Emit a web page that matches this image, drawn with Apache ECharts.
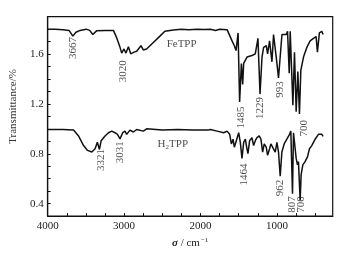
<!DOCTYPE html>
<html>
<head>
<meta charset="utf-8">
<script src="https://cdn.jsdelivr.net/npm/echarts@6/dist/echarts.min.js"></script>
<style>
html,body{margin:0;padding:0;background:#fff}
#chart{width:340px;height:254px}
</style>
</head>
<body>
<div id="chart"></div>
<script>
// FeTPP spectrum [wavenumber, transmittance]
var feTPP = [
  [4000,1.80],[3900,1.80],[3800,1.795],[3720,1.79],[3670,1.744],[3630,1.775],[3575,1.79],
  [3496,1.80],[3450,1.79],[3409,1.757],[3357,1.788],[3250,1.79],[3139,1.79],[3096,1.73],
  [3053,1.654],[3031,1.608],[3001,1.641],[2975,1.608],[2943,1.659],[2913,1.602],[2870,1.616],
  [2835,1.623],[2779,1.667],[2748,1.633],[2705,1.641],[2617,1.693],[2531,1.744],[2466,1.783],
  [2356,1.794],[2250,1.80],[2150,1.795],[2050,1.80],[1950,1.797],[1870,1.80],[1804,1.79],
  [1750,1.80],[1652,1.796],[1631,1.783],[1587,1.706],[1557,1.667],[1535,1.628],[1508,1.77],
  [1488,1.215],[1465,1.525],[1448,1.357],[1435,1.525],[1391,1.576],[1326,1.589],[1283,1.602],
  [1248,1.726],[1221,1.279],[1195,1.576],[1174,1.654],[1139,1.667],[1122,1.602],[1096,1.706],
  [1074,1.719],[1065,1.538],[1044,1.757],[1009,1.576],[979,1.409],[934,1.757],[913,1.770],
  [878,1.757],[861,1.783],[839,1.447],[826,1.783],[791,1.189],[770,1.615],[748,1.137],
  [726,1.46],[705,1.12],[687,1.47],[652,1.576],[608,1.654],[565,1.706],[522,1.726],
  [487,1.74],[470,1.615],[444,1.77],[413,1.783],[395,1.757]
];
// H2TPP spectrum
var h2TPP = [
  [4000,0.995],[3800,0.995],[3661,0.99],[3596,0.943],[3530,0.866],[3478,0.827],[3422,0.814],
  [3379,0.84],[3350,0.892],[3322,0.835],[3300,0.905],[3249,0.943],[3204,0.969],[3161,0.982],
  [3118,0.969],[3087,0.956],[3053,0.92],[3018,0.969],[2988,0.982],[2966,0.956],[2923,0.99],
  [2878,0.975],[2835,0.995],[2748,0.982],[2705,1.0],[2500,0.99],[2300,0.995],[2100,0.99],
  [1900,0.99],[1870,0.995],[1783,0.982],[1696,0.969],[1653,0.982],[1618,0.956],[1596,0.879],
  [1574,0.917],[1557,0.853],[1531,0.905],[1500,0.969],[1479,0.892],[1457,0.763],[1448,0.75],
  [1435,0.892],[1413,0.917],[1392,0.840],[1379,0.801],[1357,0.905],[1327,0.930],[1305,0.866],
  [1283,0.905],[1261,0.930],[1231,0.943],[1209,0.917],[1187,0.814],[1166,0.879],[1140,0.853],
  [1122,0.788],[1096,0.840],[1079,0.879],[1053,0.866],[1022,0.814],[1000,0.892],[979,0.814],
  [957,0.620],[935,0.814],[905,0.879],[870,0.917],[835,0.956],[818,0.982],[796,0.479],
  [783,0.969],[761,0.982],[748,0.763],[731,0.711],[718,0.737],[696,0.427],[683,0.633],
  [661,0.711],[631,0.737],[600,0.775],[574,0.840],[544,0.866],[522,0.892],[500,0.917],
  [479,0.930],[457,0.956],[435,0.969],[413,0.956],[395,0.94]
];
var xTicks = [4000,3750,3500,3250,3000,2750,2500,2250,2000,1750,1500,1250,1000,750,500];
var xLabels = [4000,3000,2000,1000];
var yTicks = [0.4,0.5,0.6,0.7,0.8,0.9,1.0,1.1,1.2,1.3,1.4,1.5,1.6,1.7,1.8];
var yLabels = [0.4,0.8,1.2,1.6];
// peak annotations [wavenumber, transmittance, text]
var peakLabels = [
  [3670,1.649,'3667'],[3011,1.463,'3020'],[1472,1.091,'1485'],[1218,1.167,'1229'],
  [963,1.315,'993'],[650,1.005,'700'],
  [3298,0.750,'3321'],[3057,0.812,'3031'],[1435,0.633,'1464'],[957,0.525,'962'],
  [804,0.393,'807'],[687,0.393,'700']
];
var nameLabels = [[2443,1.680,'FeTPP'],[2561,0.881,'H{s|2}TPP']];

var font = 'Liberation Serif';
var chart = echarts.init(document.getElementById('chart'));

var option = {
  animation: false,
  grid: {
    left: 46.7, right: 7.3, top: 16.7, bottom: 31.3,
    show: true, borderColor: '#111', borderWidth: 1.2, backgroundColor: 'transparent'
  },
  xAxis: {
    type: 'value',
    inverse: true,
    min: 270,
    max: 4000,
    name: '{i|σ} / cm{s|−1}',
    nameLocation: 'middle',
    nameGap: 14,
    nameTextStyle: {
      fontFamily: font, fontSize: 11, color: '#222',
      rich: {
        i: {fontFamily: font, fontSize: 11, fontStyle: 'italic', fontWeight: 'bold', color: '#222'},
        s: {fontFamily: font, fontSize: 7, color: '#222', padding: [0, 0, 6, 1]}
      }
    },
    axisLine: {show: true, lineStyle: {color: '#111', width: 1.2}},
    axisTick: {show: true, inside: true, length: 3, customValues: xTicks, lineStyle: {color: '#111'}},
    axisLabel: {
      customValues: xLabels, fontFamily: font, fontSize: 11, color: '#222', margin: 5,
      formatter: function (v) { return String(v); }
    },
    splitLine: {show: false}
  },
  yAxis: {
    type: 'value',
    min: 0.3,
    max: 1.9,
    name: 'Transmittance/%',
    nameLocation: 'middle',
    nameGap: 24,
    nameTextStyle: {fontFamily: font, fontSize: 11, color: '#333', padding: [0, 0, 0, 20]},
    axisLine: {show: true, lineStyle: {color: '#111', width: 1.2}},
    axisTick: {show: true, inside: true, length: 3, customValues: yTicks, lineStyle: {color: '#111'}},
    axisLabel: {
      customValues: yLabels, fontFamily: font, fontSize: 11, color: '#222', margin: 4,
      formatter: function (v) { return v.toFixed(1); }
    },
    splitLine: {show: false}
  },
  series: [{
    name: 'FeTPP',
    type: 'line',
    data: feTPP,
    symbol: 'none',
    lineStyle: {color: '#111', width: 1.5}
  }, {
    name: 'H2TPP',
    type: 'line',
    data: h2TPP,
    symbol: 'none',
    lineStyle: {color: '#111', width: 1.5}
  }, {
    type: 'scatter',
    symbolSize: 0,
    data: peakLabels,
    label: {
      show: true,
      position: 'inside',
      rotate: 90,
      fontFamily: font,
      fontSize: 11,
      color: '#222',
      formatter: function (p) { return p.data[2]; }
    }
  }, {
    type: 'scatter',
    symbolSize: 0,
    data: nameLabels,
    label: {
      show: true,
      position: [0, 0],
      align: 'left',
      verticalAlign: 'middle',
      fontFamily: font,
      fontSize: 11,
      color: '#222',
      formatter: function (p) { return p.data[2]; },
      rich: {
        s: {fontFamily: font, fontSize: 7, color: '#222', padding: [6, 0, 0, 0]}
      }
    }
  }]
};
chart.setOption(option);
</script>
</body>
</html>
